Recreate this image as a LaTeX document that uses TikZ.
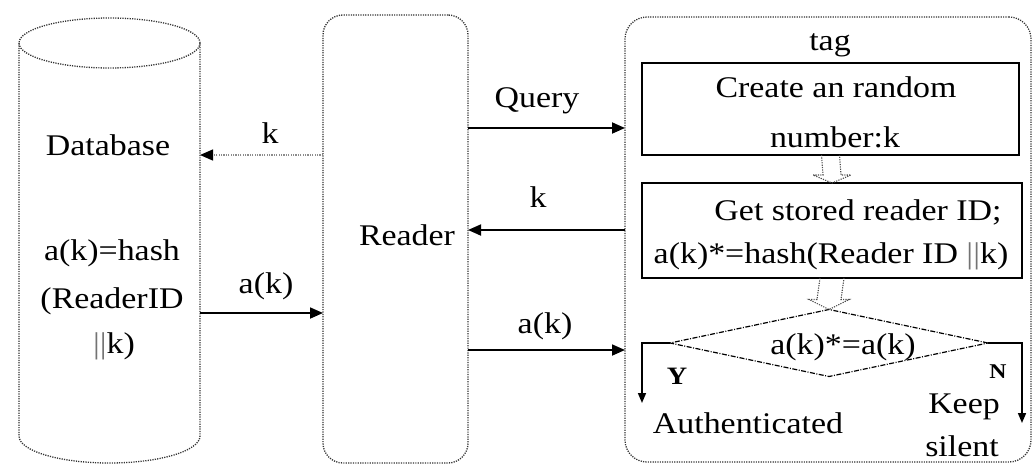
\documentclass[tikz,border=0pt]{standalone}
\usepackage{fontspec}
\setmainfont{Liberation Serif}[FakeStretch=1.13]
\usetikzlibrary{arrows.meta,shapes.geometric}

\begin{document}
\begin{tikzpicture}[x=1pt,y=-1pt,
  every node/.style={inner sep=0pt, outer sep=0pt},
  txt/.style={anchor=base, font=\fontsize{30}{36}\selectfont},
  yn/.style={anchor=base, font=\fontsize{25}{28}\selectfont\bfseries},
  frame/.style={draw=black!80, line width=1.3pt, dash pattern=on 1.2pt off 1.2pt},
  stepbox/.style={draw, line width=1.6pt},
  link/.style={line width=1.8pt, -{Triangle[length=13pt,width=11pt]}},
  faint/.style={draw=black!45, line width=1.3pt, dash pattern=on 1.2pt off 1.2pt,
                -{Triangle[length=13pt,width=11pt,color=black]}},
  branch/.style={line width=1.6pt, -{Triangle[length=10pt,width=8pt]}},
  hollow/.style={draw=black!70, line width=1.1pt, dash pattern=on 1.2pt off 1.2pt}
]
\useasboundingbox (0,0) rectangle (1033,466);
\newcommand{\concat}{{\color{black!55}||}}

% ---------- database cylinder ----------
\node[minimum width=181pt, minimum height=446pt] (db) at (109.5,240) {};
\draw[frame] (19,43) -- (19,436) arc[start angle=180, end angle=360, x radius=90.5pt, y radius=27pt] -- (200,43);
\draw[frame] (109.5,43) ellipse[x radius=90.5pt, y radius=25pt];
\node[txt] (dbname) at (108,155) {Database};
\node[txt] (dbf1) at (112,260) {a(k)=hash};
\node[txt] (dbf2) at (112,308) {(ReaderID};
\node[txt] (dbf3) at (114,353) {\concat k)};

% ---------- reader ----------
\node[frame, rounded corners=20pt, minimum width=145pt, minimum height=448pt] (reader) at (395.5,239) {};
\node[txt] (readername) at (407,245) {Reader};

% ---------- tag ----------
\node[frame, rounded corners=22pt, minimum width=406pt, minimum height=445pt] (tag) at (828,239.5) {};
\node[txt] (tagname) at (830,50) {tag};

\node[stepbox, minimum width=377pt, minimum height=92pt] (create) at (830.5,109) {};
\node[txt] (c1) at (836,97) {Create an random};
\node[txt] (c2) at (835,147) {number:k};

\node[stepbox, minimum width=380pt, minimum height=95pt] (get) at (832,230.5) {};
\node[txt] (g1) at (858,220) {Get stored reader ID;};
\node[txt] (g2) at (831,263) {a(k)*=hash(Reader ID \concat k)};

\node[diamond, draw, line width=1.2pt, dash pattern=on 5pt off 1.5pt on 1pt off 1.5pt,
      minimum width=318pt, minimum height=67pt, aspect=4.75] (check) at (829,343) {};
\node[txt] (ctext) at (843,354) {a(k)*=a(k)};

% hollow step arrows
\draw[hollow] ([xshift=-9pt]create.south) -- ([xshift=-9pt,yshift=8pt]get.north)
  -- ([xshift=-19pt,yshift=8pt]get.north) -- (get.north)
  -- ([xshift=19pt,yshift=8pt]get.north) -- ([xshift=9pt,yshift=8pt]get.north)
  -- ([xshift=9pt]create.south);
\draw[hollow] ([xshift=-12pt]get.south) -- ([xshift=-12pt,yshift=10pt]check.north)
  -- ([xshift=-20pt,yshift=10pt]check.north) -- (check.north)
  -- ([xshift=20pt,yshift=10pt]check.north) -- ([xshift=12pt,yshift=10pt]check.north)
  -- ([xshift=12pt]get.south);

% branches
\coordinate (yend) at (642,403);
\coordinate (nend) at (1022,423);
\draw[branch] (check.west) -| (yend);
\draw[branch] (check.east) -| (nend);
\node[yn] (ylab) at (677,384) {Y};
\node[yn, font=\fontsize{21}{24}\selectfont\bfseries] (nlab) at (998,378) {N};
\node[txt] (auth) at (748,433) {Authenticated};
\node[txt] (keep1) at (964,413) {Keep};
\node[txt] (keep2) at (962,456) {silent};

% ---------- messages ----------
\coordinate (ykdb) at (0,155);
\coordinate (yakdb) at (0,313);
\coordinate (yq) at (0,128);
\coordinate (yk) at (0,230);
\coordinate (yak) at (0,350);

\draw[faint] (reader.west |- ykdb) -- (db.east |- ykdb);
\node[txt] (lk1) at (270,143) {k};
\draw[link] (db.east |- yakdb) -- (reader.west |- yakdb);
\node[txt] (lak1) at (266,293) {a(k)};

\draw[link] (reader.east |- yq) -- (tag.west |- yq);
\node[txt] (lq) at (537,107) {Query};
\draw[link] (tag.west |- yk) -- (reader.east |- yk);
\node[txt] (lk2) at (538,207) {k};
\draw[link] (reader.east |- yak) -- (tag.west |- yak);
\node[txt] (lak2) at (545,333) {a(k)};
\end{tikzpicture}
\end{document}
